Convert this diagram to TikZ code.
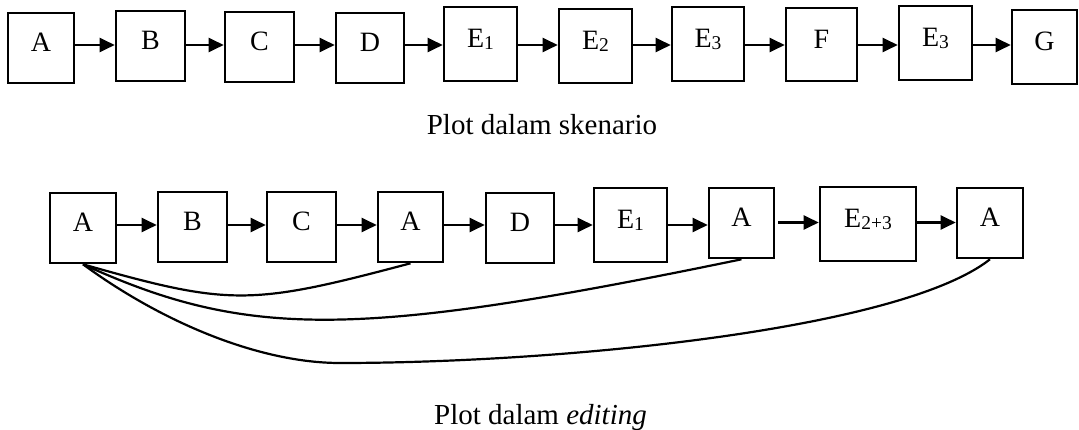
\documentclass[tikz,border=0pt]{standalone}
\usepackage{fontspec}
\setmainfont{Liberation Serif}
\usetikzlibrary{arrows.meta}
\newcommand{\sbs}[1]{\raisebox{-1.5pt}{\fontsize{19.5}{21}\selectfont #1}}
\tikzset{
  box/.style 2 args={draw=black, line width=2.6pt, fill=white, inner sep=0pt,
    text height=20pt, text depth=12pt, font=\fontsize{28}{30}\selectfont,
    minimum width=#1pt, minimum height=#2pt},
  arr/.style={draw=black, line width=2.2pt, -{Triangle[length=15pt,width=14pt]}},
  link/.style={draw=black, line width=2.2pt},
  captext/.style={anchor=base, inner sep=0pt, font=\fontsize{29}{32}\selectfont}
}
\begin{document}
\begin{tikzpicture}[x=1pt,y=-1pt]
\path[use as bounding box, fill=white] (0,0) rectangle (1079,430);
% row one
\node[box={66}{70}] (a1) at (41,48) {A};
\node[box={69}{70}] (b1) at (150.5,46) {B};
\node[box={69}{70}] (c1) at (259.5,47) {C};
\node[box={68}{70}] (d1) at (370,48) {D};
\node[box={73}{74}] (e11) at (480.5,44) {E\sbs{1}};
\node[box={73}{74}] (e21) at (595.5,46) {E\sbs{2}};
\node[box={72}{74}] (e31) at (708,44) {E\sbs{3}};
\node[box={71}{73}] (f1) at (821.5,44.5) {F};
\node[box={73}{74}] (e32) at (935.5,43) {E\sbs{3}};
\node[box={65}{74}] (g1) at (1044.5,47) {G};
\coordinate (ty) at (0,45);
\draw[arr] (a1.east |- ty) -- (b1.west |- ty);
\draw[arr] (b1.east |- ty) -- (c1.west |- ty);
\draw[arr] (c1.east |- ty) -- (d1.west |- ty);
\draw[arr] (d1.east |- ty) -- (e11.west |- ty);
\draw[arr] (e11.east |- ty) -- (e21.west |- ty);
\draw[arr] (e21.east |- ty) -- (e31.west |- ty);
\draw[arr] (e31.east |- ty) -- (f1.west |- ty);
\draw[arr] (f1.east |- ty) -- (e32.west |- ty);
\draw[arr] (e32.east |- ty) -- (g1.west |- ty);
\node[captext] (cap1) at (542,135) {Plot dalam skenario};
% row two
\node[box={66}{70}] (a2) at (83,228) {A};
\node[box={69}{70}] (b2) at (192.5,227) {B};
\node[box={69}{70}] (c2) at (301.5,227) {C};
\node[box={65}{70}] (a3) at (410.5,227) {A};
\node[box={68}{70}] (d2) at (520,228) {D};
\node[box={73}{74}] (e12) at (630.5,225) {E\sbs{1}};
\node[box={65}{70}] (a4) at (741.5,223) {A};
\node[box={96}{74}] (e23) at (868,224) {E\sbs{2+3}};
\node[box={66}{70}] (a5) at (990,223) {A};
\coordinate (by) at (0,225);
\coordinate (bz) at (0,222.5);
\draw[arr] (a2.east |- by) -- (b2.west |- by);
\draw[arr] (b2.east |- by) -- (c2.west |- by);
\draw[arr] (c2.east |- by) -- (a3.west |- by);
\draw[arr] (a3.east |- by) -- (d2.west |- by);
\draw[arr] (d2.east |- by) -- (e12.west |- by);
\draw[arr] (e12.east |- by) -- (a4.west |- by);
\draw[arr, shorten <=3pt] (a4.east |- bz) -- (e23.west |- bz);
\draw[arr] (e23.east |- bz) -- (a5.west |- bz);
% back links
\draw[link] (a2.south) .. controls (230,306) and (250,306) .. (a3.south);
\draw[link] (a2.south) .. controls (247,339) and (356,339) .. (a4.south);
\draw[link] (a2.south) .. controls (163,323) and (260,363) .. (340,363)
  .. controls (560,363) and (900,330) .. (a5.south);
\node[captext] (cap2) at (540.5,424) {Plot dalam \textit{editing}};
\end{tikzpicture}
\end{document}
